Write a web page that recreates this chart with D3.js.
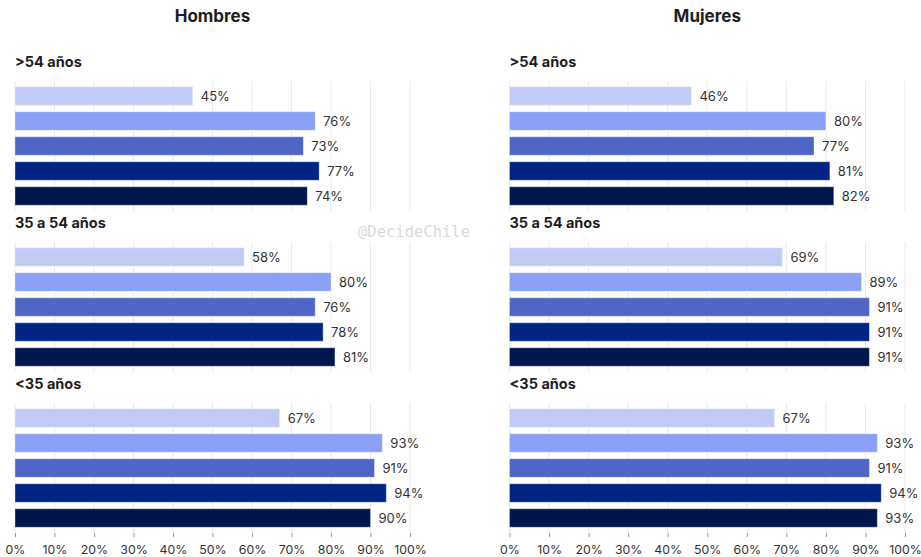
<!DOCTYPE html>
<html>
<head>
<meta charset="utf-8">
<script src="https://cdn.jsdelivr.net/npm/d3@7"></script>
<style>
  body { margin: 0; background: #fff; }
  svg { display: block; font-family: Inter, "Noto Sans", sans-serif; }
</style>
</head>
<body>
<svg id="chart"></svg>
<script>
// data
const sexes = ["Hombres", "Mujeres"];
const ageGroups = [">54 años", "35 a 54 años", "<35 años"];
const series = ["s1", "s2", "s3", "s4", "s5"];
const colors = ["#c0cbf5", "#89a0f6", "#4f66c7", "#022585", "#00174e"];

const hombres = [
  [45, 76, 73, 77, 74],
  [58, 80, 76, 78, 81],
  [67, 93, 91, 94, 90]
];
const mujeres = [
  [46, 80, 77, 81, 82],
  [69, 89, 91, 91, 91],
  [67, 93, 91, 94, 93]
];
const values = [hombres, mujeres];
const ticks = [0, 10, 20, 30, 40, 50, 60, 70, 80, 90, 100];

var width = 921,
    height = 557;

const svg = d3.select("#chart")
    .attr("width", width)
    .attr("height", height);

// layout
const colX = [[15, 410], [509.5, 905]];
const panelTop = [81, 242, 403];
const panelH = 130;

sexes.forEach((sex, si) => {
    let x = d3.scaleLinear().domain([0, 100]).range(colX[si]);

    svg.append("text")
        .attr("x", (colX[si][0] + colX[si][1]) / 2)
        .attr("y", 22)
        .attr("text-anchor", "middle")
        .attr("font-size", 17)
        .attr("font-weight", 700)
        .attr("fill", "#1e1e1e")
        .text(sex);

    ageGroups.forEach((age, ai) => {
        let top = panelTop[ai];
        let y = d3.scaleBand()
            .domain(series)
            .range([top, top + panelH])
            .paddingInner(0.26)
            .paddingOuter(0.23);

        let g = svg.append("g");

        // group label
        g.append("text")
            .attr("x", colX[si][0])
            .attr("y", top - 14)
            .attr("font-size", 14.5)
            .attr("font-weight", 700)
            .attr("fill", "#1e1e1e")
            .text(age);

        // grid
        g.selectAll("line.grid")
            .data(ticks)
            .enter().append("line")
                .attr("class", "grid")
                .attr("x1", d => x(d))
                .attr("x2", d => x(d))
                .attr("y1", top)
                .attr("y2", top + panelH)
                .attr("stroke", "#ebebeb")
                .attr("stroke-width", 1);

        let rows = series.map((s, i) => ({s: s, v: values[si][ai][i], c: colors[i]}));

        g.selectAll("rect")
            .data(rows)
            .enter().append("rect")
                .attr("x", x(0))
                .attr("y", d => y(d.s))
                .attr("width", d => x(d.v) - x(0))
                .attr("height", y.bandwidth())
                .attr("fill", d => d.c)
                .attr("stroke", "rgba(255,255,255,0.35)")
                .attr("stroke-width", 1);

        g.selectAll("text.val")
            .data(rows)
            .enter().append("text")
                .attr("class", "val")
                .attr("x", d => x(d.v) + 8)
                .attr("y", d => y(d.s) + y.bandwidth() / 2)
                .attr("dy", "0.35em")
                .attr("font-size", 13)
                .attr("fill", "#333")
                .text(d => d.v + "%");

        // x axis only under the last panel
        if (ai === ageGroups.length - 1) {
            let axis = svg.append("g")
                .attr("transform", `translate(0,${top + panelH})`)
                .call(d3.axisBottom(x).tickValues(ticks).tickFormat(d => d + "%").tickSize(4).tickPadding(8));
            axis.select(".domain").remove();
            axis.selectAll(".tick line").attr("stroke", "#999");
            axis.selectAll(".tick text")
                .attr("font-size", 12.3)
                .attr("font-family", "Inter, 'Noto Sans', sans-serif")
                .attr("fill", "#333");
        }
    });
});

// watermark
svg.append("text")
    .attr("x", 414)
    .attr("y", 237)
    .attr("text-anchor", "middle")
    .attr("font-family", "'DejaVu Sans Mono', monospace")
    .attr("font-size", 15.5)
    .attr("fill", "#dadada")
    .text("@DecideChile");
</script>
</body>
</html>
